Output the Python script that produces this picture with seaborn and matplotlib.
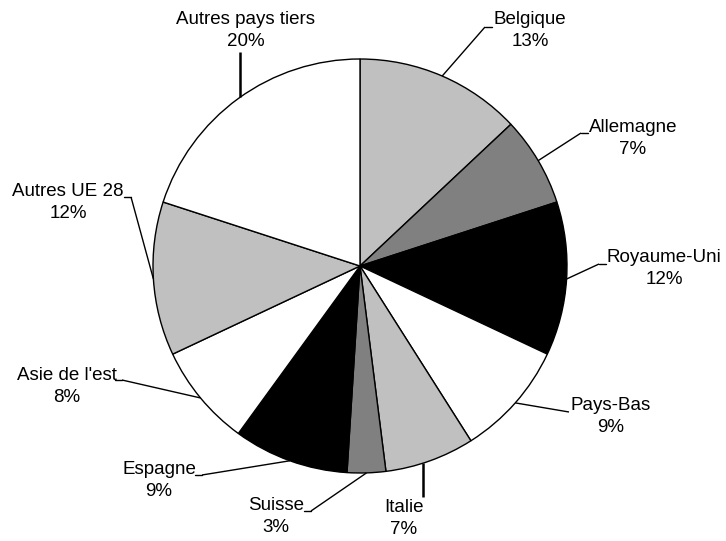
import matplotlib
matplotlib.use("Agg")
import matplotlib.pyplot as plt
import seaborn as sns
import numpy as np

sns.set_theme(style="white")
plt.rcParams['font.family'] = ['Liberation Sans', 'DejaVu Sans']

# données (parts en %)
pays = ['Belgique', 'Allemagne', 'Royaume-Uni', 'Pays-Bas', 'Italie', 'Suisse',
        'Espagne', "Asie de l'est", 'Autres UE 28', 'Autres pays tiers']
parts = [13, 7, 12, 9, 7, 3, 9, 8, 12, 20]
couleurs = ['#c0c0c0', '#808080', '#000000', '#ffffff', '#c0c0c0', '#808080',
            '#000000', '#ffffff', '#c0c0c0', '#ffffff']

W, H = 726, 541
cx, cy, R = 360, 266, 207

# positions des étiquettes (centre du nom, en pixels) et point d'accroche du trait
lab_pos = {
    'Belgique': (530, 20, 'tick_left', (485, 27)),
    'Allemagne': (633, 127, 'tick_left', (581, 133)),
    'Royaume-Uni': (664, 258, 'tick_left', (599, 264)),
    'Pays-Bas': (611, 405, 'none', (569, 412)),
    'Italie': (404, 508, 'vertical', (423, 497)),
    'Suisse': (276, 505, 'tick_right', (311, 511)),
    'Espagne': (159, 470, 'tick_right', (202, 475)),
    "Asie de l'est": (67, 375, 'tick_right', (122, 380)),
    'Autres UE 28': (68, 192, 'tick_right', (131, 197)),
    'Autres pays tiers': (246, 20, 'vertical', (240, 52)),
}

fig = plt.figure(figsize=(W / 100, H / 100), dpi=100)
ax = fig.add_axes([0, 0, 1, 1])
ax.set_xlim(0, W)
ax.set_ylim(0, H)
ax.axis('off')

ax.pie(parts, colors=couleurs, startangle=90, counterclock=False,
       center=(cx, H - cy), radius=R,
       wedgeprops=dict(edgecolor='black', linewidth=1.0))
ax.set_xlim(0, W)
ax.set_ylim(0, H)

total = sum(parts)
cum = np.cumsum([0] + parts[:-1])
for nom, v, c in zip(pays, parts, cum):
    theta = np.deg2rad(90 - 360 * (c + v / 2) / total)
    ex = cx + R * np.cos(theta)
    ey = cy - R * np.sin(theta)
    tx, ty, kind, (ax_, ay_) = lab_pos[nom]
    lw = 1.0
    if kind == 'vertical':
        # trait vertical : point sur le cercle à l'abscisse du trait
        ex = ax_
        dy = np.sqrt(R ** 2 - (ax_ - cx) ** 2)
        ey = cy + dy if ay_ > cy else cy - dy
        lw = 1.8
    ax.plot([ex, ax_], [H - ey, H - ay_], color='black', lw=lw,
            solid_capstyle='butt')
    if kind == 'tick_left':
        ax.plot([ax_, ax_ + 7], [H - ay_, H - ay_], color='black', lw=1.0)
    elif kind == 'tick_right':
        ax.plot([ax_, ax_ - 7], [H - ay_, H - ay_], color='black', lw=1.0)
    ax.text(tx, H - ty, nom, ha='center', va='center', fontsize=13.5, color='black')
    ax.text(tx, H - ty - 22, f"{v}%", ha='center', va='center', fontsize=13.5, color='black')

plt.savefig("out.png", dpi=100)
